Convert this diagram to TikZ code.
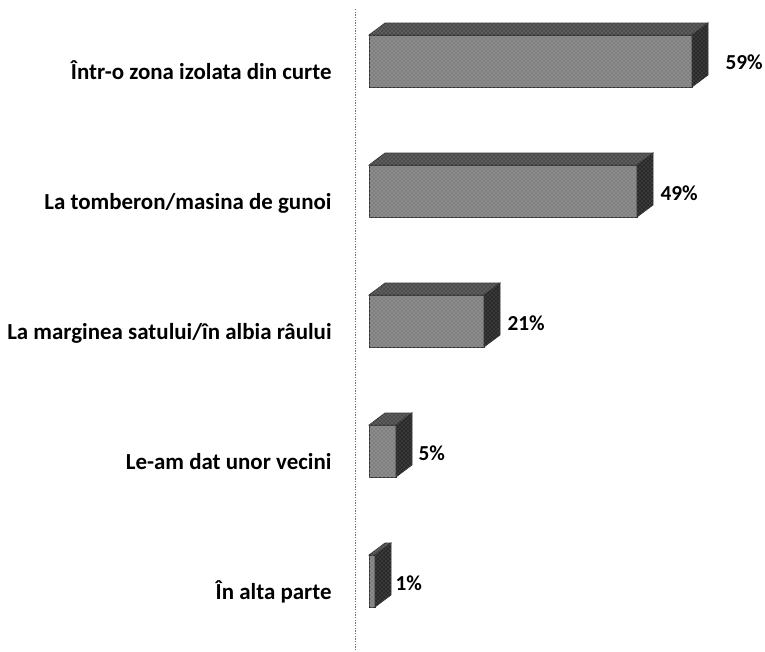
\documentclass[tikz,border=0pt]{standalone}
\usepackage{fontspec}
\setmainfont{Carlito}
\usetikzlibrary{patterns}

\tikzset{every picture/.style={line width=0.75pt}}
\tikzset{
	barfront/.style={draw=black!80, line width=0.5pt, fill=black!50, postaction={pattern=crosshatch dots, pattern color=white!70!black}},
	bartop/.style={draw=black!80, line width=0.5pt, fill=black!70, postaction={pattern=crosshatch dots, pattern color=black!40}},
	barside/.style={draw=black!80, line width=0.5pt, fill=black!84, postaction={pattern=crosshatch dots, pattern color=black!55}},
	catlabel/.style={anchor=base east, inner sep=0.75pt, font=\fontsize{17.2}{20}\selectfont\bfseries},
	vallabel/.style={anchor=west, inner sep=0.75pt, font=\fontsize{16}{19}\selectfont\bfseries}
}

\begin{document}
\begin{tikzpicture}[x=0.75pt,y=0.75pt,yscale=-1,xscale=1]
	\useasboundingbox (0,0) rectangle (765,651); %set diagram size 765 x 651

	%Straight Lines [id:axis]
	\draw  [black!55, line width=0.6pt, dash pattern={on 1pt off 1pt}]  (355,9) -- (355,651) ;

	%Shape: Cube [id:bar59]
	\draw  [barfront] (369,35) -- (692,35) -- (692,87) -- (369,87) -- cycle ;
	\draw  [bartop] (369,35) -- (385,23) -- (708,23) -- (692,35) -- cycle ;
	\draw  [barside] (692,35) -- (708,23) -- (708,75) -- (692,87) -- cycle ;
	%Shape: Cube [id:bar49]
	\draw  [barfront] (369,165) -- (637,165) -- (637,217) -- (369,217) -- cycle ;
	\draw  [bartop] (369,165) -- (385,153) -- (653,153) -- (637,165) -- cycle ;
	\draw  [barside] (637,165) -- (653,153) -- (653,205) -- (637,217) -- cycle ;
	%Shape: Cube [id:bar21]
	\draw  [barfront] (369,295) -- (484,295) -- (484,347) -- (369,347) -- cycle ;
	\draw  [bartop] (369,295) -- (385,283) -- (500,283) -- (484,295) -- cycle ;
	\draw  [barside] (484,295) -- (500,283) -- (500,335) -- (484,347) -- cycle ;
	%Shape: Cube [id:bar5]
	\draw  [barfront] (369,425) -- (396,425) -- (396,477) -- (369,477) -- cycle ;
	\draw  [bartop] (369,425) -- (385,413) -- (412,413) -- (396,425) -- cycle ;
	\draw  [barside] (396,425) -- (412,413) -- (412,465) -- (396,477) -- cycle ;
	%Shape: Cube [id:bar1]
	\draw  [barfront] (369,555) -- (375,555) -- (375,607) -- (369,607) -- cycle ;
	\draw  [bartop] (369,555) -- (385,543) -- (391,543) -- (375,555) -- cycle ;
	\draw  [barside] (375,555) -- (391,543) -- (391,595) -- (375,607) -- cycle ;

	% Text Node
	\draw (333,79) node [catlabel] (cat59) {Într-o zona izolata din curte};
	% Text Node
	\draw (333,209) node [catlabel] (cat49) {La tomberon/masina de gunoi};
	% Text Node
	\draw (333,339) node [catlabel] (cat21) {La marginea satului/în albia râului};
	% Text Node
	\draw (333,469) node [catlabel] (cat5) {Le-am dat unor vecini};
	% Text Node
	\draw (333,599) node [catlabel] (cat1) {În alta parte};

	% Text Node
	\draw (724,62) node [vallabel] (val59) {59\%};
	% Text Node
	\draw (659,193) node [vallabel] (val49) {49\%};
	% Text Node
	\draw (506,323) node [vallabel] (val21) {21\%};
	% Text Node
	\draw (417,453) node [vallabel] (val5) {5\%};
	% Text Node
	\draw (394,583) node [vallabel] (val1) {1\%};
\end{tikzpicture}
\end{document}
